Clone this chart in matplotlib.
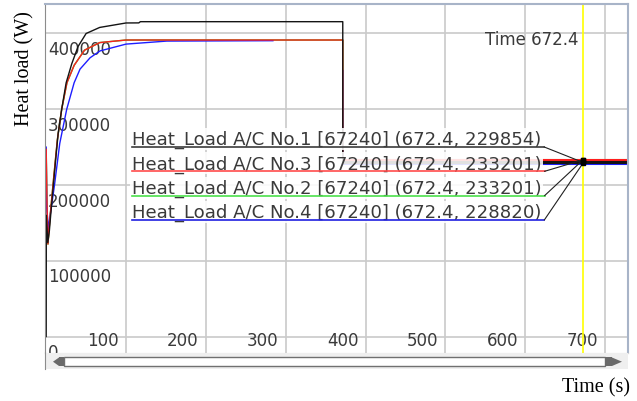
import matplotlib
matplotlib.use('Agg')
import matplotlib.pyplot as plt
from matplotlib.patches import Rectangle, Polygon
import numpy as np

#######################
# Values (time in s, heat load in W)
t_no1 = [0, 0.2, 2, 4, 6, 9, 12, 15, 19.4, 25, 32, 40, 50, 67, 100, 116, 118, 371.5, 371.5, 728]
hl_no1 = [0, 160000, 124000, 140000, 165000, 200000, 235000, 268000, 300000, 335000,
          360000, 383000, 400000, 408000, 413900, 414000, 415600, 415600, 229854, 229854]

t_no3 = [0, 1, 2.2, 5, 8.5, 14, 19.4, 26, 35, 48, 67, 100, 371.5, 371.5, 728]
hl_no3 = [247000, 175000, 122000, 160000, 200000, 260000, 300000, 335000, 358000,
          378000, 388000, 391400, 391400, 233201, 233201]

# No.2 sits exactly under No.3 in the screenshot
t_no2 = [0, 1, 2.2, 5, 8.5, 14, 19.4, 26, 35, 48, 67, 100, 371.5, 371.5, 728]
hl_no2 = [247000, 175000, 122000, 160000, 200000, 260000, 300000, 335000, 358000,
          378000, 388000, 391400, 391400, 233201, 233201]

t_no4 = [0, 0.6, 3, 5, 10.4, 17, 25.7, 35, 42.4, 55, 67.4, 100, 151, 284, np.nan, 371.5, 371.5, 728]
hl_no4 = [250000, 170000, 142000, 160000, 200000, 255000, 300000, 335000, 353000, 368000,
          377000, 386000, 390000, 390500, np.nan, 351000, 228820, 228820]

label_names = ['Heat_Load A/C No.1', 'Heat_Load A/C No.3', 'Heat_Load A/C No.2', 'Heat_Load A/C No.4']
cursor_values = [229854, 233201, 233201, 228820]
CURSOR_T = 672.4
CURSOR_IDX = 67240
DROP_T = 371.5

XTICKS = [100, 200, 300, 400, 500, 600, 700]
YTICKS = [0, 100000, 200000, 300000, 400000]

# styles
LINE_COLORS = {'No.1': '#141414', 'No.3': '#ff1e1e', 'No.2': '#1ed21e', 'No.4': '#1e1eff'}
UNDERLINE_COLORS = ['#3c3c3c', '#ff4c4c', '#4ce04c', '#2020e0']
TXT = '#3a3a3a'
W, H = 637, 402

def frac(x0, y0, x1, y1):
    # pixel box (from the top left) -> figure fraction rect
    return [x0 / W, 1 - y1 / H, (x1 - x0) / W, (y1 - y0) / H]

fig = plt.figure(figsize=(W / 100, H / 100), dpi=100)
AX_BOX = (45, 4.5, 628, 353.5)
ax = fig.add_axes(frac(*AX_BOX))
ax.set_xlim(-1.5, 728.8)
ax.set_ylim(-21100, 439600)

def ax_frac(px, py):
    return ((px - AX_BOX[0]) / (AX_BOX[2] - AX_BOX[0]), (AX_BOX[3] - py) / (AX_BOX[3] - AX_BOX[1]))

# grid and frame
ax.set_xticks(XTICKS)
ax.set_yticks(YTICKS)
ax.set_axisbelow(True)
ax.grid(True, color='#cacaca', lw=1.2)
ax.tick_params(length=0, labelbottom=False, labelleft=False)
for side in ['top', 'right']:
    ax.spines[side].set_color('#a8b4c8')
    ax.spines[side].set_linewidth(1.5)
ax.spines['left'].set_color('#8c8c8c')
ax.spines['bottom'].set_color('#d4d4d4')

# tick labels drawn inside the plot like the original tool does
for x in XTICKS:
    ax.annotate(str(x), (x, 0), xytext=(-7, -8), textcoords='offset pixels', ha='right',
                va='baseline', fontsize=12, color=TXT, clip_on=True, zorder=1.5)
for y in YTICKS:
    ax.annotate(str(y), (0, y), xycoords=('axes fraction', 'data'), xytext=(3, -20.5),
                textcoords='offset pixels', ha='left', va='baseline', fontsize=12,
                color=TXT, clip_on=True, zorder=1.5)

# series (post-drop part is drawn thicker, as in the screenshot)
series = [('No.2', t_no2, hl_no2), ('No.4', t_no4, hl_no4), ('No.3', t_no3, hl_no3), ('No.1', t_no1, hl_no1)]
for i, (key, t, v) in enumerate(series):
    t = np.array(t, dtype=float)
    v = np.array(v, dtype=float)
    ax.plot(t, v, color=LINE_COLORS[key], lw=1.0, zorder=2 + i * 0.1)
    late = t >= DROP_T
    late[np.argmax(late)] = False
    ax.plot(t[late], v[late], color=LINE_COLORS[key], lw=2.2, zorder=2 + i * 0.1)

# cursor
ax.axvline(CURSOR_T, color='#ffff00', lw=1.2, zorder=2.5)
ax.annotate('Time %.1f' % CURSOR_T, (CURSOR_T, ax_frac(0, 45)[1]), xycoords=('data', 'axes fraction'),
            xytext=(-4, 0), textcoords='offset pixels', ha='right', va='baseline',
            fontsize=12, color=TXT, zorder=3)

# value labels with underline and leader line to the cursor point
texts = []
for i, name in enumerate(label_names):
    s = '%s [%d] (%.1f, %d)' % (name, CURSOR_IDX, CURSOR_T, cursor_values[i])
    fx, fy = ax_frac(132, 145 + i * 24.3)
    tx = ax.text(fx, fy, s, transform=ax.transAxes, ha='left', va='baseline', fontsize=13.1,
                 color=TXT, zorder=3,
                 bbox=dict(boxstyle='square,pad=0.1', fc='white', ec='none', alpha=0.88))
    texts.append(tx)

fig.canvas.draw()
inv = ax.transData.inverted()
for i, tx in enumerate(texts):
    bb = tx.get_window_extent()
    y_ul = H - (148 + i * 24.3)
    x0, y0 = inv.transform((bb.x0, y_ul))
    x1, _ = inv.transform((bb.x1 + 3, y_ul))
    ax.plot([x0, x1], [y0, y0], color=UNDERLINE_COLORS[i], lw=1.2, zorder=4)
    ax.plot([x1, CURSOR_T], [y0, cursor_values[i]], color='#202020', lw=0.8, zorder=4)
ax.plot([CURSOR_T] * 4, cursor_values, 's', color='black', ms=3.5, zorder=5)

# scroll bar under the plot
sb = fig.add_axes(frac(45, 353.5, 628, 370))
sb.set_xlim(45, 628)
sb.set_ylim(370, 353.5)
sb.set_facecolor('#efefef')
sb.set_xticks([])
sb.set_yticks([])
for side in ['top', 'right', 'bottom']:
    sb.spines[side].set_visible(False)
sb.spines['left'].set_color('#8c8c8c')
sb.add_patch(Rectangle((64, 358.5), 541, 8.5, fc='white', ec='#707070', lw=1))
sb.add_patch(Polygon([(53, 362.7), (59, 358.5), (59, 367)], fc='#6a6a6a', ec='none'))
sb.add_patch(Rectangle((59, 358.5), 5, 8.5, fc='#6a6a6a', ec='none'))
sb.add_patch(Rectangle((605, 358.5), 7, 8.5, fc='#6a6a6a', ec='none'))
sb.add_patch(Polygon([(612, 358.5), (612, 367), (622, 362.7)], fc='#6a6a6a', ec='none'))

# axis titles
fig.text(24.5 / W, 1 - 68.5 / H, 'Heat load (W)', rotation=90, ha='center', va='center',
         family='Liberation Serif', fontsize=14.5, color='black')
fig.text(630 / W, 1 - 388 / H, 'Time (s)', ha='right', va='center',
         family='Liberation Serif', fontsize=14.5, color='black')

fig.savefig('out.png', dpi=100)
